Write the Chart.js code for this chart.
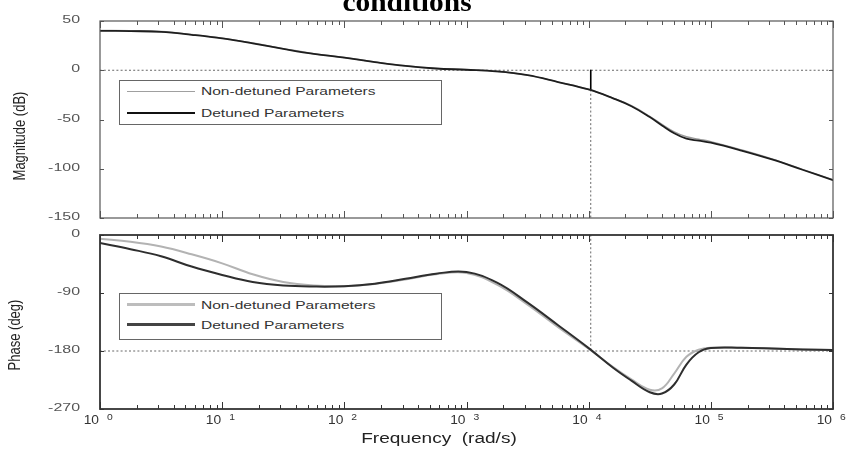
<!DOCTYPE html>
<html><head><meta charset="utf-8">
<script src="https://cdn.jsdelivr.net/npm/chart.js@4.4.1/dist/chart.umd.min.js"></script>
<style>
html,body{margin:0;padding:0;background:#fff;}
#wrap{position:relative;width:847px;height:457px;overflow:hidden;background:#fff;font-family:"Liberation Sans",Arial,sans-serif;}
canvas{position:absolute;left:0;}
.t{position:absolute;white-space:nowrap;}
.lg{position:absolute;border:1px solid #666;background:#fff;box-sizing:border-box;}
.lgline{position:absolute;}
.lgtext{position:absolute;font-size:10.5px;line-height:12px;color:#333;transform:scaleX(1.48);transform-origin:0 50%;white-space:nowrap;}
</style></head>
<body><div id="wrap">
<canvas id="mag" width="847" height="228" style="top:0"></canvas>
<canvas id="pha" width="847" height="229" style="top:228px"></canvas>
<div class="t" id="title" style="left:0;width:814px;top:-11px;text-align:center;font:bold 27px/27px 'Liberation Serif',serif;color:#000;transform:scaleX(1.09);transform-origin:407px 50%;">conditions</div>
<div class="t" style="left:0;width:878px;top:431px;text-align:center;font-size:14px;line-height:14px;color:#222;transform:scaleX(1.36);transform-origin:439px 50%;">Frequency&nbsp; (rad/s)</div>
<div class="t" style="left:-80px;top:129px;width:200px;text-align:center;font-size:13px;line-height:14px;color:#222;transform:scaleX(1.25) rotate(-90deg);transform-origin:50% 50%;">Magnitude (dB)</div>
<div class="t" style="left:-85px;top:328px;width:200px;text-align:center;font-size:13px;line-height:14px;color:#222;transform:scaleX(1.25) rotate(-90deg);transform-origin:50% 50%;">Phase (deg)</div>
<div id="legends"></div>
</div>
<script>
// ---- data ----
const freq = [1, 1.778, 3.162, 5.623, 10, 17.78, 31.62, 56.23, 100, 177.8, 316.2, 562.3, 1000, 1778, 3162, 5623, 10000, 15849, 22387, 31623, 39811, 50119, 63096, 79433, 100000, 177828, 316228, 562341, 1000000];
const magDetuned = [40, 39.7, 39, 36, 32.3, 27.3, 21.7, 16.6, 12.8, 8.3, 4.4, 1.8, 0.5, -1.2, -5, -12, -19.5, -28.5, -36.5, -47.5, -56, -64, -69.5, -71.5, -73.5, -81.5, -90.5, -101, -111.5];
const magNonDetuned = [40.5, 40.2, 39.4, 36.4, 32.6, 27.6, 22, 16.8, 13, 8.5, 4.5, 1.9, 0.5, -1.2, -5, -12, -19.5, -28.3, -36, -46.8, -55, -62.5, -67.5, -70, -72.5, -80.8, -90, -100.6, -111.2];
const phaseDetuned = [-12.5, -22, -33, -49, -62, -73, -78.5, -80, -79.5, -75.5, -68, -60, -57.5, -74, -105, -140, -175.5, -206, -226, -244, -246, -232, -201, -182, -175.5, -175, -176, -177.5, -178.5];
const phaseNonDetuned = [-6, -10.5, -18, -30, -44, -61, -73, -78.5, -79.5, -76, -69, -61, -59, -77, -108, -143, -176.5, -205, -224, -240, -238, -215, -189, -178, -175, -175, -176, -177.5, -178.5];
const crossFreq = 10400;      // frequency of the vertical marker
const crossMag = -20;         // magnitude at the marker
const magRefLevel = 0;        // 0 dB reference
const phaseRefLevel = -180;   // -180 deg reference
const magTicks = [50, 0, -50, -100, -150];
const magTickLabels = ['50', '0', '-50', '-100', '-150'];
const phaseTicks = [0, -90, -180, -270];
const phaseTickLabels = ['0', '-90', '-180', '-270'];
const freqTicks = [1, 10, 100, 1000, 10000, 100000, 1000000];
const freqTickBase = ['10', '10', '10', '10', '10', '10', '10'];
const freqTickExp = ['0', '1', '2', '3', '4', '5', '6'];
const seriesNames = ['Non-detuned Parameters', 'Detuned Parameters'];

// ---- helpers ----
const pts = (xs, ys) => xs.map((x, i) => ({x, y: ys[i]}));

const framePlugin = {
  id: 'frame',
  afterDatasetsDraw(chart, args, o) {
    const {ctx, chartArea: a, scales: {x, y}} = chart;
    ctx.save();
    ctx.strokeStyle = o.color;
    ctx.lineWidth = 1;
    ctx.beginPath();
    for (let d = 0; d <= 6; d++) {
      for (let k = 1; k <= 9; k++) {
        const v = k * Math.pow(10, d);
        if (v > 1e6) break;
        const px = Math.round(x.getPixelForValue(v)) + 0.5;
        const len = k === 1 ? 7 : 4;
        ctx.moveTo(px, a.top); ctx.lineTo(px, a.top + len);
        ctx.moveTo(px, a.bottom); ctx.lineTo(px, a.bottom - len);
      }
    }
    for (const v of o.yTicks) {
      const py = Math.round(y.getPixelForValue(v)) + 0.5;
      ctx.moveTo(a.left, py); ctx.lineTo(a.left + 4, py);
      ctx.moveTo(a.right, py); ctx.lineTo(a.right - 4, py);
    }
    ctx.stroke();
    ctx.lineWidth = o.width;
    ctx.strokeStyle = o.color;
    ctx.strokeRect(a.left, a.top, a.right - a.left, a.bottom - a.top);
    // y tick labels
    ctx.fillStyle = '#555';
    ctx.font = '11px "Liberation Sans", Arial, sans-serif';
    ctx.textAlign = 'right';
    ctx.textBaseline = 'middle';
    o.yTicks.forEach((v, i) => {
      const py = y.getPixelForValue(v) - 1;
      ctx.save(); ctx.translate(a.left - 20, py); ctx.scale(1.45, 1);
      ctx.fillText(o.yLabels[i], 0, 0); ctx.restore();
    });
    // x tick labels
    if (o.xLabels) {
      ctx.fillStyle = '#333';
      ctx.textBaseline = 'alphabetic';
      freqTicks.forEach((v, i) => {
        const px = x.getPixelForValue(v);
        ctx.save(); ctx.translate(px - 1, a.bottom + 15); ctx.scale(1.15, 1);
        ctx.textAlign = 'right'; ctx.font = '12px "Liberation Sans", Arial, sans-serif';
        ctx.fillText(freqTickBase[i], 0, 0); ctx.restore();
        ctx.save(); ctx.translate(px + 7, a.bottom + 11); ctx.scale(1.15, 1);
        ctx.textAlign = 'left'; ctx.font = '9px "Liberation Sans", Arial, sans-serif';
        ctx.fillText(freqTickExp[i], 0, 0); ctx.restore();
      });
    }
    ctx.restore();
  }
};

function baseOptions(ymin, ymax, pad, frame) {
  return {
    responsive: false, animation: false, events: [],
    layout: {padding: pad},
    scales: {
      x: {type: 'logarithmic', min: 1, max: 1e6, display: false},
      y: {type: 'linear', min: ymin, max: ymax, display: false}
    },
    plugins: {legend: {display: false}, tooltip: {enabled: false}, frame},
    elements: {point: {radius: 0}, line: {tension: 0.4, borderCapStyle: 'round', borderJoinStyle: 'round'}}
  };
}
const dotted = {borderColor: '#666', borderWidth: 1, borderDash: [1.2, 3], fill: false, tension: 0};

new Chart(document.getElementById('mag'), {
  type: 'line',
  data: {datasets: [
    {label: seriesNames[1], data: pts(freq, magDetuned), borderColor: '#1e1e1e', borderWidth: 1.8},
    {label: seriesNames[0], data: pts(freq, magNonDetuned), borderColor: '#9a9a9a', borderWidth: 1.4},
    {label: 'marker', data: [{x: crossFreq, y: magRefLevel}, {x: crossFreq, y: crossMag}], borderColor: '#000', borderWidth: 1.6, tension: 0},
    Object.assign({label: 'ref', data: [{x: 1, y: magRefLevel}, {x: 1e6, y: magRefLevel}]}, dotted),
    Object.assign({label: 'vref', data: [{x: crossFreq, y: crossMag}, {x: crossFreq, y: -150}]}, dotted)
  ]},
  options: baseOptions(-150, 50, {left: 100, right: 14, top: 21, bottom: 10},
    {color: '#555', width: 1.2, yTicks: magTicks, yLabels: magTickLabels, xLabels: false}),
  plugins: [framePlugin]
});

new Chart(document.getElementById('pha'), {
  type: 'line',
  data: {datasets: [
    {label: seriesNames[1], data: pts(freq, phaseDetuned), borderColor: '#2e2e2e', borderWidth: 2},
    {label: seriesNames[0], data: pts(freq, phaseNonDetuned), borderColor: '#b3b3b3', borderWidth: 2},
    Object.assign({label: 'ref', data: [{x: 1, y: phaseRefLevel}, {x: 1e6, y: phaseRefLevel}]}, dotted),
    Object.assign({label: 'vref', data: [{x: crossFreq, y: 0}, {x: crossFreq, y: phaseRefLevel}]}, dotted)
  ]},
  options: baseOptions(-270, 0, {left: 100, right: 14, top: 7, bottom: 48},
    {color: '#333', width: 1.8, yTicks: phaseTicks, yLabels: phaseTickLabels, xLabels: true}),
  plugins: [framePlugin]
});

// ---- legends (HTML text) ----
function legend(top, h, rows, styles) {
  const host = document.getElementById('legends');
  const box = document.createElement('div');
  box.className = 'lg';
  box.style.cssText = `left:119px;top:${top}px;width:323px;height:${h}px;`;
  host.appendChild(box);
  rows.forEach((cy, i) => {
    const ln = document.createElement('div');
    ln.className = 'lgline';
    ln.style.cssText = `left:127px;width:68px;top:${cy - styles[i].w / 2}px;height:${styles[i].w}px;background:${styles[i].c};`;
    host.appendChild(ln);
    const tx = document.createElement('div');
    tx.className = 'lgtext';
    tx.style.cssText += `left:201px;top:${cy - 6}px;`;
    tx.textContent = seriesNames[i];
    host.appendChild(tx);
  });
}
legend(80, 45, [91, 112.5], [{c: '#a0a0a0', w: 1}, {c: '#111', w: 2}]);
legend(293, 47, [304.5, 324.5], [{c: '#bdbdbd', w: 3}, {c: '#444', w: 3}]);
</script>
</body></html>
